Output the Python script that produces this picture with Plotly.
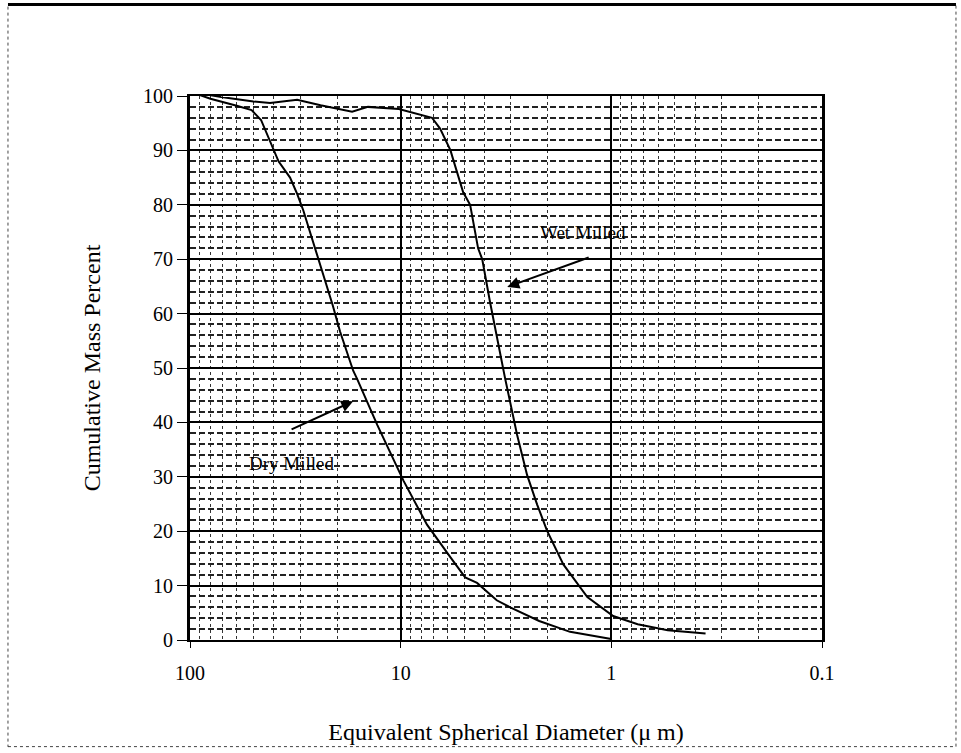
import math
import plotly.graph_objects as go

# ---- data ----
dry_d = [100, 80, 60, 51, 46, 42, 38, 33.5, 31, 29, 25, 21, 19.4, 16.8, 16.1, 12.9,
         9.7, 7.5, 5.8, 4.94, 4.34, 3.76, 3.5, 3.02, 2.2, 1.57, 1.0]
dry_v = [100.8, 99.5, 98.2, 97.4, 95.6, 92, 88, 85, 82, 79, 71, 61.5, 56.7, 49.5, 48, 39.5,
         29.3, 21.2, 15.2, 11.5, 10.5, 8.4, 7.3, 6.0, 3.5, 1.5, 0.2]

wet_d = [100, 71, 50, 41.7, 31, 24, 17, 14.3, 10.2, 7.1, 6.5, 5.8, 5.63, 5.05, 4.68,
         4.29, 4.1, 3.76, 3.19, 2.8, 2.51, 2.25, 2.02, 1.69, 1.3, 1.24, 0.98, 0.75, 0.54, 0.357]
wet_v = [100.8, 99.8, 99.0, 98.7, 99.3, 98.3, 97.1, 98.0, 97.6, 96.0, 94.0, 90.0, 88.3, 82.3, 80.0,
         72.0, 70.0, 62.0, 48.0, 37.7, 30.3, 24.9, 20.1, 13.9, 7.9, 7.3, 4.4, 2.9, 1.8, 1.2]

y_ticks = list(range(0, 101, 10))
x_tick_vals = [100, 10, 1, 0.1]
x_tick_text = ["100", "10", "1", "0.1"]

labels = ["Wet Milled", "Dry Milled"]
label_d = [1.37, 33]
label_v = [75, 32.5]
arrow_tip_d = [3.12, 16.8]
arrow_tip_v = [64.9, 43.9]
arrow_tail_d = [1.26, 33.5]
arrow_tail_v = [70.4, 38.6]

FONT = "Liberation Serif"

fig = go.Figure()
fig.add_trace(go.Scatter(x=dry_d, y=dry_v, mode="lines", name="Dry Milled",
                         line=dict(color="black", width=2), showlegend=False))
fig.add_trace(go.Scatter(x=wet_d, y=wet_v, mode="lines", name="Wet Milled",
                         line=dict(color="black", width=2), showlegend=False))

minor_vals = [m * 10 ** e for e in (-1, 0, 1) for m in range(2, 10)]

fig.update_xaxes(
    type="log", range=[2, -1],
    tickmode="array", tickvals=x_tick_vals, ticktext=x_tick_text,
    showgrid=True, gridcolor="black", gridwidth=1.5,
    showline=True, linecolor="black", linewidth=2, mirror=True,
    ticks="outside", ticklen=6, tickcolor="black", ticklabelstandoff=8,
    minor=dict(tickmode="array", tickvals=minor_vals, showgrid=True,
               gridcolor="#333", gridwidth=1, griddash="dot", ticks=""),
    title=dict(text="Equivalent Spherical Diameter (\u03bc m)",
               font=dict(family=FONT, size=24, color="black"), standoff=40),
    tickfont=dict(family=FONT, size=20, color="black"),
    zeroline=False,
)
fig.update_yaxes(
    range=[0, 100], tickmode="array", tickvals=y_ticks,
    showgrid=True, gridcolor="black", gridwidth=2,
    showline=True, linecolor="black", linewidth=3, mirror=True,
    ticks="outside", ticklen=10, tickcolor="black",
    minor=dict(dtick=2, showgrid=True, gridcolor="#222", gridwidth=1.8,
               griddash="6px,3px", ticks=""),
    title=dict(text="Cumulative Mass Percent",
               font=dict(family=FONT, size=24, color="black"), standoff=36),
    tickfont=dict(family=FONT, size=20, color="black"),
    zeroline=False,
)

for i, t in enumerate(labels):
    fig.add_annotation(x=math.log10(label_d[i]), y=label_v[i], text=t, showarrow=False,
                       font=dict(family=FONT, size=19, color="black"),
                       bgcolor="rgba(255,255,255,0)")
    fig.add_annotation(x=math.log10(arrow_tip_d[i]), y=arrow_tip_v[i],
                       ax=math.log10(arrow_tail_d[i]), ay=arrow_tail_v[i],
                       axref="x", ayref="y", xref="x", yref="y", text="",
                       showarrow=True, arrowhead=2, arrowsize=1.2, arrowwidth=2,
                       arrowcolor="black")

# outer frame of the picture
fig.add_shape(type="rect", xref="paper", yref="paper",
              x0=-0.288, x1=1.212, y0=-0.196, y1=1.168,
              line=dict(color="#444", width=1, dash="dot"))
fig.add_shape(type="line", xref="paper", yref="paper",
              x0=-0.288, x1=1.212, y0=1.168, y1=1.168,
              line=dict(color="black", width=3))

fig.update_layout(
    width=961, height=753,
    margin=dict(l=190, r=139, t=96, b=110),
    paper_bgcolor="white", plot_bgcolor="white",
    font=dict(family=FONT, color="black"),
)

fig.write_html("out.html")
